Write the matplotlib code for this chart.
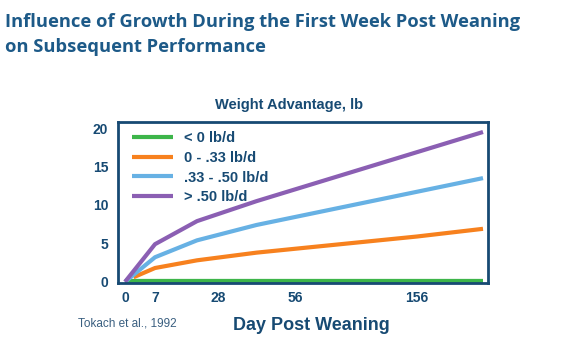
import matplotlib
matplotlib.use("Agg")
import matplotlib.pyplot as plt
import numpy as np

# day -> horizontal position on the (uneven) original day axis
day_anchor = [0, 7, 28, 56, 156, 210]
pos_anchor = [125, 155, 218, 295, 417, 483]

tick_days = [0, 7, 28, 56, 156]
tick_labels = ["0", "7", "28", "56", "156"]

series_names = ["< 0 lb/d", "0 - .33 lb/d", ".33 - .50 lb/d", "> .50 lb/d"]
series_colors = ["#3db54a", "#f7811e", "#67b1e4", "#8b5fb3"]

green_days = [0, 210]
green_vals = [0, 0]
orange_days = [2, 7, 21, 42, 156, 210]
orange_vals = [0.6, 1.8, 2.8, 3.8, 5.9, 6.9]
blue_days = [0, 7, 21, 42, 210]
blue_vals = [0, 3.2, 5.4, 7.4, 13.5]
purple_days = [0, 7, 21, 42, 210]
purple_vals = [0, 4.9, 7.9, 10.5, 19.5]

navy = "#174a73"
title_col = "#1d5a88"

def to_pos(d):
    return np.interp(d, day_anchor, pos_anchor)

fig = plt.figure(figsize=(5.87, 3.40), dpi=100)
ax = fig.add_axes([118/587, 1-283/340, 370/587, 161/340])

data = [(green_days, green_vals, 4.5), (orange_days, orange_vals, 3),
        (blue_days, blue_vals, 3), (purple_days, purple_vals, 3)]
for (d, v, lw), name, c in zip(data, series_names, series_colors):
    ax.plot(to_pos(d), v, color=c, lw=lw, label=name, solid_capstyle="butt")

ax.set_xlim(118, 488)
ax.set_ylim(-0.15, 20.8)
ax.set_yticks([0, 5, 10, 15, 20])
ax.set_xticks(to_pos(tick_days))
ax.set_xticklabels(tick_labels)
ax.tick_params(length=0, labelsize=10, labelcolor=navy)
ax.tick_params(axis="y", pad=7)
ax.tick_params(axis="x", pad=6)
for lab in ax.get_xticklabels() + ax.get_yticklabels():
    lab.set_fontweight("bold")
    lab.set_family("Liberation Sans")
for s in ax.spines.values():
    s.set_color(navy)
    s.set_linewidth(2)

leg = ax.legend(loc="upper left", bbox_to_anchor=(0.038, 0.945), frameon=False,
                handlelength=2.8, borderpad=0, borderaxespad=0,
                prop={"family": "Liberation Sans", "weight": "bold", "size": 10.5},
                labelspacing=0.4, handletextpad=0.75)
for t in leg.get_texts():
    t.set_color(navy)
for h in leg.get_lines():
    h.set_linewidth(3)

fig.text(5/587, 1-22/340, "Influence of Growth During the First Week Post Weaning",
         family="Open Sans", weight="bold", size=13.2, color=title_col, va="center")
fig.text(5/587, 1-47/340, "on Subsequent Performance",
         family="Open Sans", weight="bold", size=13.2, color=title_col, va="center")
fig.text(289/587, 1-105/340, "Weight Advantage, lb", family="Liberation Sans",
         weight="bold", size=10.5, color=navy, ha="center", va="center")
fig.text(311/587, 1-325/340, "Day Post Weaning", family="Liberation Sans",
         weight="bold", size=13, color=navy, ha="center", va="center")
fig.text(78/587, 1-323/340, "Tokach et al., 1992", family="Liberation Sans",
         size=8.5, color="#3a5f80", ha="left", va="center")

fig.savefig("out.png", dpi=100)
